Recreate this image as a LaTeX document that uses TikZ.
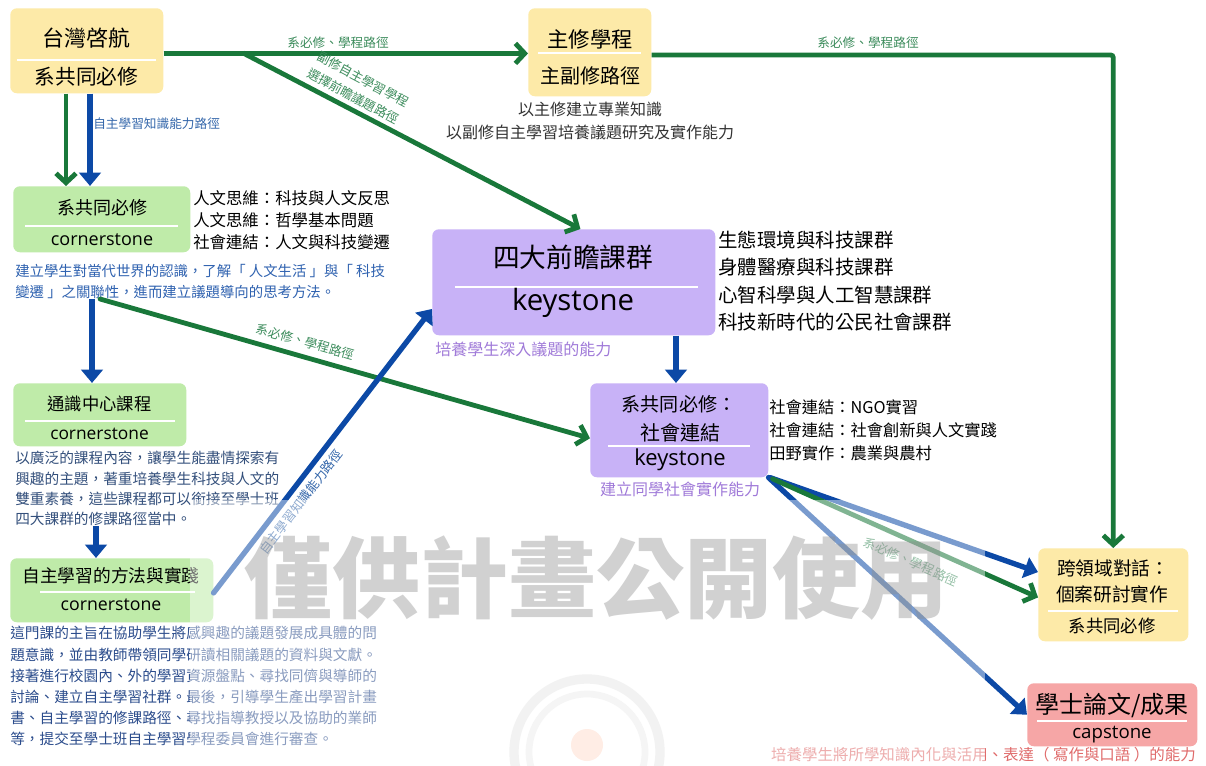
\documentclass[tikz,border=0pt]{standalone}
\usepackage{fontspec}
\setmainfont{Noto Sans CJK TC}
\newfontfamily\latinf{Open Sans}
\usetikzlibrary{arrows.meta}
\definecolor{ybox}{HTML}{FDEAA8}
\definecolor{gbox}{HTML}{BFEBA9}
\definecolor{pbox}{HTML}{C8B2F7}
\definecolor{rbox}{HTML}{F6A6A6}
\definecolor{gline}{HTML}{19783A}
\definecolor{bline}{HTML}{0C49A6}
\definecolor{glab}{HTML}{3C8C5C}
\definecolor{blab}{HTML}{3366AA}
\definecolor{btext}{HTML}{2F62B0}
\definecolor{dtext}{HTML}{34507C}
\definecolor{ztext}{HTML}{2B4C8C}
\definecolor{ptext}{HTML}{A07AD9}
\definecolor{rtext}{HTML}{E06A6A}
\definecolor{gtext}{HTML}{333333}
\newcommand\myfs[1]{\fontsize{#1pt}{#1pt}\selectfont}
\begin{document}
\begin{tikzpicture}[x=0.75pt,y=-0.75pt,
  box/.style n args={3}{rectangle, rounded corners=5pt, fill=#1, draw=none, inner sep=0pt, anchor=north west, minimum width=#2*0.75pt, minimum height=#3*0.75pt},
  lbl/.style={inner sep=0pt, text=black},
  sepline/.style={white, line width=1.2pt},
  garrow/.style={draw=gline, line width=3.6pt, -{Straight Barb[length=7pt,width=15pt]}},
  barrow/.style={draw=bline, line width=4pt, -{Triangle[length=10pt,width=16pt]}},
  glabel/.style={inner sep=0pt, text=glab, font=\myfs{9.5}},
  blabel/.style={inner sep=0pt, text=blab, font=\myfs{9.5}},
  ]
\useasboundingbox (0,0) rectangle (1206,766);
\fill[white] (0,0) rectangle (1206,766);

% ---------- boxes ----------
\node[box={ybox}{153}{85}] (tw) at (10,8) {};
\node[box={ybox}{123}{88}] (zx) at (528,8) {};
\node[box={gbox}{177}{66}] (cs1) at (13,186) {};
\node[box={gbox}{173}{63}] (ts) at (13,383) {};
\node[box={gbox}{203}{64}] (zz) at (10,558) {};
\node[box={pbox}{283}{106}] (ky) at (432,229) {};
\node[box={pbox}{178}{94}] (sh) at (590,383) {};
\node[box={ybox}{150}{93}] (kl) at (1038,548) {};
\node[box={rbox}{170}{63}] (cap) at (1027,683) {};

% dividers
\draw[sepline] (17,60) -- (156,60);
\draw[sepline] (538,53) -- (641,53);
\draw[sepline] (25,226) -- (178,226);
\draw[sepline] (25,421) -- (175,421);
\draw[sepline] (40,592) -- (195,592);
\draw[sepline] (455,287) -- (698,287);
\draw[sepline] (608,446) -- (750,446);
\draw[sepline] (1048,611) -- (1178,611);
\draw[sepline] (1037,721) -- (1187,721);

% box texts
\node[lbl, font=\myfs{16.5}] (tw1) at (86.5,38) {台灣啓航};
\node[lbl, font=\myfs{15.5}] (tw2) at (86.5,77) {系共同必修};
\node[lbl, font=\myfs{16}] (zx1) at (590,39) {主修學程};
\node[lbl, font=\myfs{15}] (zx2) at (590,76) {主副修路徑};
\node[lbl, font=\myfs{13.5}] (cs11) at (102,208) {系共同必修};
\node[lbl, font=\latinf\myfs{13.5}] (cs12) at (102,240) {cornerstone};
\node[lbl, font=\myfs{13}] (ts1) at (99.5,404) {通識中心課程};
\node[lbl, font=\latinf\myfs{13}] (ts2) at (99.5,434) {cornerstone};
\node[lbl, font=\myfs{13.3}] (zz1) at (111,576) {自主學習的方法與實踐};
\node[lbl, font=\latinf\myfs{13.3}] (zz2) at (111,605) {cornerstone};
\node[lbl, font=\myfs{20}] (ky1) at (573,257) {四大前瞻課群};
\node[lbl, font=\latinf\myfs{22}] (ky2) at (573,303) {keystone};
\node[lbl, font=\myfs{14.3}] (sh1) at (679,404) {系共同必修：};
\node[lbl, font=\myfs{15}] (sh2) at (680,433) {社會連結};
\node[lbl, font=\latinf\myfs{16.5}] (sh3) at (680,460) {keystone};
\node[lbl, font=\myfs{14}] (kl1) at (1113,568) {跨領域對話：};
\node[lbl, font=\myfs{14}] (kl2) at (1112,594) {個案研討實作};
\node[lbl, font=\myfs{13}] (kl3) at (1112,626) {系共同必修};
\node[lbl, font=\myfs{18}] (cap1) at (1112,705) {學士論文/成果};
\node[lbl, font=\latinf\myfs{14}] (cap2) at (1112,735) {capstone};

% side texts
\node[lbl, text=gtext, font=\myfs{12}] (zd1) at (590,109) {以主修建立專業知識};
\node[lbl, text=gtext, font=\myfs{12}] (zd2) at (590,132) {以副修自主學習培養議題研究及實作能力};

\node[lbl, anchor=west, font=\myfs{12.3}] (cl1) at (193,198) {人文思維：科技與人文反思};
\node[lbl, anchor=west, font=\myfs{12.3}] (cl2) at (193,220) {人文思維：哲學基本問題};
\node[lbl, anchor=west, font=\myfs{12.3}] (cl3) at (193,242) {社會連結：人文與科技變遷};

\node[lbl, anchor=west, text=btext, font=\myfs{10.8}] (cd1) at (15,271) {建立學生對當代世界的認識，了解「 人文生活 」與「 科技};
\node[lbl, anchor=west, text=btext, font=\myfs{10.8}] (cd2) at (15,292) {變遷 」之關聯性，進而建立議題導向的思考方法。};

\node[lbl, anchor=west, text=dtext, font=\myfs{11}] (td1) at (15,458) {以廣泛的課程內容，讓學生能盡情探索有};
\node[lbl, anchor=west, text=dtext, font=\myfs{11}] (td2) at (15,479) {興趣的主題，著重培養學生科技與人文的};
\node[lbl, anchor=west, text=dtext, font=\myfs{11}] (td3) at (15,499) {雙重素養，這些課程都可以銜接至學士班};
\node[lbl, anchor=west, text=dtext, font=\myfs{11}] (td4) at (15,519) {四大課群的修課路徑當中。};

\node[lbl, anchor=west, text=ztext, font=\myfs{11}] (zd3) at (10,633) {這門課的主旨在協助學生將感興趣的議題發展成具體的問};
\node[lbl, anchor=west, text=ztext, font=\myfs{11}] (zd4) at (10,655) {題意識，並由教師帶領同學研讀相關議題的資料與文獻。};
\node[lbl, anchor=west, text=ztext, font=\myfs{11}] (zd5) at (10,676) {接著進行校園內、外的學習資源盤點、尋找同儕與導師的};
\node[lbl, anchor=west, text=ztext, font=\myfs{11}] (zd6) at (10,697) {討論、建立自主學習社群。最後，引導學生產出學習計畫};
\node[lbl, anchor=west, text=ztext, font=\myfs{11}] (zd7) at (10,718) {書、自主學習的修課路徑、尋找指導教授以及協助的業師};
\node[lbl, anchor=west, text=ztext, font=\myfs{11}] (zd8) at (10,739) {等，提交至學士班自主學習學程委員會進行審查。};

\node[lbl, anchor=west, font=\myfs{14.6}] (kl_a) at (718,240) {生態環境與科技課群};
\node[lbl, anchor=west, font=\myfs{14.6}] (kl_b) at (718,267) {身體醫療與科技課群};
\node[lbl, anchor=west, font=\myfs{14.6}] (kl_c) at (718,295) {心智科學與人工智慧課群};
\node[lbl, anchor=west, font=\myfs{14.6}] (kl_d) at (718,322) {科技新時代的公民社會課群};
\node[lbl, anchor=west, text=ptext, font=\myfs{12}] (kyd) at (435,349) {培養學生深入議題的能力};

\node[lbl, anchor=west, font=\myfs{12.2}] (sl1) at (769,407) {社會連結：NGO實習};
\node[lbl, anchor=west, font=\myfs{12.2}] (sl2) at (769,430) {社會連結：社會創新與人文實踐};
\node[lbl, anchor=west, font=\myfs{12.2}] (sl3) at (769,453) {田野實作：農業與農村};
\node[lbl, text=ptext, font=\myfs{12}] (shd) at (680,489) {建立同學社會實作能力};

\node[lbl, anchor=east, text=rtext, font=\myfs{11.6}] (capd) at (1196,755) {培養學生將所學知識內化與活用、表達（ 寫作與口語 ）的能力};

% ---------- connectors ----------
\coordinate (br) at (243,53);
\draw[garrow] ([yshift=-2pt]tw.east) -- ([yshift=-2pt]tw.east -| zx.west);
\node[glabel] (l1) at (338,43) {系必修、學程路徑};
\draw[garrow, rounded corners=2pt] ([yshift=-2pt]zx.east) -| (kl.north);
\node[glabel] (l2) at (868,43) {系必修、學程路徑};
\draw[garrow] (br) -- ([xshift=5pt]ky.north);
\node[glabel, rotate=-28] (l3) at (363,79) {副修自主學習學程};
\node[glabel, rotate=-28] (l4) at (353,96) {選擇前瞻議題路徑};

\draw[garrow] (66,0 |- tw.south) -- (66,0 |- cs1.north);
\draw[barrow] (90,0 |- tw.south) -- (90,0 |- cs1.north);
\node[blabel, anchor=west] (l5) at (93,124) {自主學習知識能力路徑};

\draw[barrow] (92,0 |- cd2.south) -- (92,0 |- ts.north);
\draw[garrow, line cap=round] (100,0 |- cd2.south) -- ([yshift=-6pt]sh.west)
  node[glabel, sloped, above=5pt, pos=0.41] (l6) {系必修、學程路徑};

\draw[barrow] (96,0 |- td4.south) -- (96,0 |- zz.north);
\draw[barrow, line cap=round] ([yshift=-2pt]zz.east) -- ([yshift=-20pt]ky.west)
  node[blabel, sloped, below=4pt, pos=0.35] (l7) {自主學習知識能力路徑};

\draw[barrow] (676,0 |- ky.south) -- (676,0 |- sh.north);

\draw[barrow, line cap=round] ([xshift=1pt]sh.south east) -- ([yshift=17pt]kl.west);
\draw[barrow, line cap=round] (sh.south east) -- (cap.west);
\draw[garrow, line cap=round] ([xshift=3pt,yshift=-1pt]sh.south east) -- ([yshift=-2pt]kl.west)
  node[glabel, sloped, below=8pt, pos=0.55] (l8) {系必修、學程路徑};

% ---------- overlay, logo and watermark ----------
\fill[white, opacity=0.45] (190,500) rectangle (985,766);
\draw[black!5, line width=7pt] (587,752) circle (73);
\draw[black!4, line width=5pt] (587,752) circle (58);
\fill[red!40!orange!10] (587,745) circle (16);
\node[lbl, text=black!45, opacity=0.4, font=\bfseries\myfs{66}] (wm) at (596,578) {僅供計畫公開使用};
\end{tikzpicture}
\end{document}
